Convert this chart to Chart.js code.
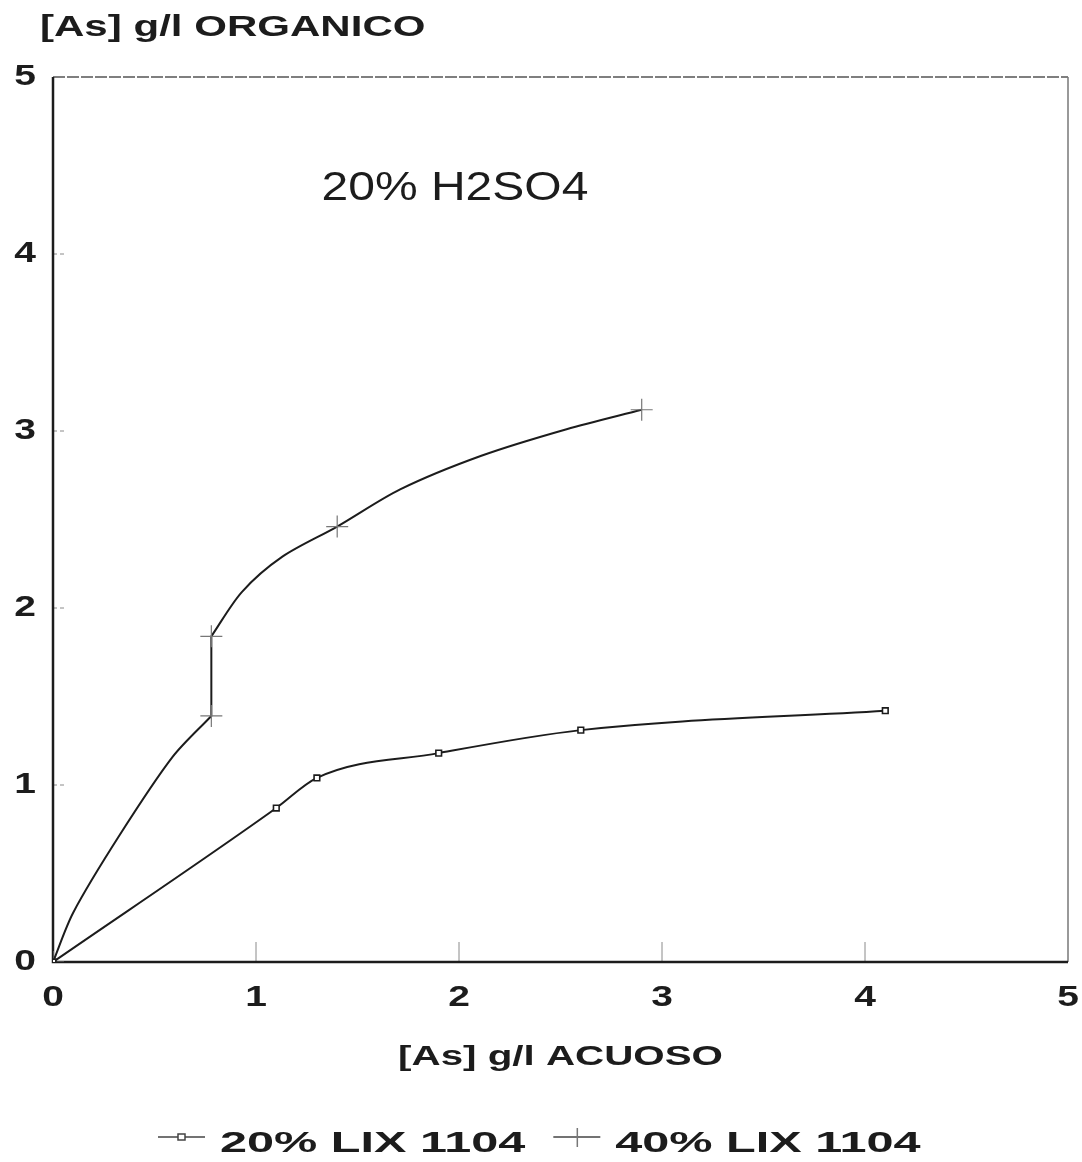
<!DOCTYPE html>
<html>
<head>
<meta charset="utf-8">
<script src="https://cdn.jsdelivr.net/npm/chart.js@4.4.1/dist/chart.umd.min.js"></script>
<style>
  html, body { margin: 0; padding: 0; background: #fff; }
  #wrap { width: 1082px; height: 1162px; }
</style>
</head>
<body>
<div id="wrap"><canvas id="chart"></canvas></div>
<script>
// tick values
const xTicks = [0, 1, 2, 3, 4, 5];
const yTicks = [0, 1, 2, 3, 4, 5];

// 20% LIX 1104 (square markers)
const lix20X = [0, 1.1, 1.3, 1.9, 2.6, 4.1];
const lix20Y = [0, 0.87, 1.04, 1.18, 1.31, 1.42];

// 40% LIX 1104, curve; markers only where the plot shows them.
// the two corners of the vertical step are listed twice so the spline keeps the step straight
const lix40X = [0, 0.10, 0.33, 0.59, 0.78, 0.78, 0.78, 0.78, 0.93, 1.13, 1.40, 1.71, 2.11, 2.53, 2.90];
const lix40Y = [0, 0.28, 0.72, 1.16, 1.39, 1.39, 1.84, 1.84, 2.09, 2.29, 2.46, 2.67, 2.86, 3.01, 3.12];
const lix40Mark = [1, 0, 0, 0, 1, 0, 1, 0, 0, 0, 1, 0, 0, 0, 1];

const seriesNames = ['20% LIX 1104', '40% LIX 1104'];
const xTitle = '[As] g/l ACUOSO';
const yTitle = '[As] g/l ORGANICO';
const note = '20% H2SO4';

const FONT = '"Liberation Sans", Arial, sans-serif';
const INK = '#1c1c1c';

const toPts = (xs, ys) => xs.map((x, i) => ({ x: x, y: ys[i] }));

// the old plotter font is much wider than Helvetica, so stretch it
function wideText(ctx, text, x, y, size, weight, stretch, align) {
    ctx.save();
    ctx.font = weight + ' ' + size + 'px ' + FONT;
    ctx.textBaseline = 'middle';
    ctx.textAlign = 'left';
    const w = ctx.measureText(text).width * stretch;
    let x0 = x;
    if (align === 'center') x0 = x - w / 2;
    if (align === 'right') x0 = x - w;
    ctx.translate(x0, y);
    ctx.scale(stretch, 1);
    ctx.fillStyle = INK;
    ctx.fillText(text, 0, 0);
    ctx.restore();
    return w;
}

const framePlugin = {
    id: 'frame',
    beforeDatasetsDraw(chart) {
        const { ctx, chartArea: a, scales } = chart;
        ctx.save();
        // inner tick marks
        ctx.strokeStyle = '#8a8a8a';
        ctx.lineWidth = 1;
        xTicks.slice(1, -1).forEach(v => {
            const px = scales.x.getPixelForValue(v);
            ctx.beginPath();
            ctx.moveTo(px, a.bottom);
            ctx.lineTo(px, a.bottom - 20);
            ctx.stroke();
        });
        ctx.setLineDash([4, 3]);
        yTicks.slice(1, -1).forEach(v => {
            const py = scales.y.getPixelForValue(v);
            ctx.beginPath();
            ctx.moveTo(a.left, py);
            ctx.lineTo(a.left + 14, py);
            ctx.stroke();
        });
        // top & right border, light
        ctx.strokeStyle = '#555';
        ctx.lineWidth = 1.5;
        ctx.setLineDash([12, 2]);
        ctx.beginPath();
        ctx.moveTo(a.left, a.top);
        ctx.lineTo(a.right, a.top);
        ctx.stroke();
        ctx.setLineDash([]);
        ctx.strokeStyle = '#777';
        ctx.beginPath();
        ctx.moveTo(a.right, a.top);
        ctx.lineTo(a.right, a.bottom);
        ctx.stroke();
        // left & bottom axes, heavy
        ctx.strokeStyle = INK;
        ctx.lineWidth = 2.5;
        ctx.beginPath();
        ctx.moveTo(a.left, a.top);
        ctx.lineTo(a.left, a.bottom);
        ctx.lineTo(a.right, a.bottom);
        ctx.stroke();
        ctx.restore();
    },
    afterDraw(chart) {
        const { ctx, chartArea: a, scales } = chart;

        // tick labels
        scales.x.ticks.forEach(t => {
            wideText(ctx, String(t.value), scales.x.getPixelForValue(t.value), 998, 30, 'bold', 1.3, 'center');
        });
        scales.y.ticks.forEach(t => {
            wideText(ctx, String(t.value), 36, scales.y.getPixelForValue(t.value), 30, 'bold', 1.3, 'right');
        });

        // axis titles
        wideText(ctx, yTitle, 40, 28, 29, 'bold', 1.45, 'left');
        wideText(ctx, xTitle, (a.left + a.right) / 2, 1057, 28, 'bold', 1.44, 'center');
        // note inside plot
        wideText(ctx, note, scales.x.getPixelForValue(1.98), scales.y.getPixelForValue(4.37), 40, 'normal', 1.2, 'center');

        // legend
        const ly = 1140;
        let x = 158;
        chart.data.datasets.forEach((d, i) => {
            ctx.save();
            ctx.strokeStyle = '#444';
            ctx.lineWidth = 1.5;
            ctx.beginPath();
            ctx.moveTo(x, ly - 3);
            ctx.lineTo(x + 47, ly - 3);
            ctx.stroke();
            if (i === 0) {
                ctx.fillStyle = '#fff';
                ctx.fillRect(x + 20, ly - 6, 7, 6);
                ctx.strokeRect(x + 20, ly - 6, 7, 6);
            } else {
                ctx.strokeStyle = '#777';
                ctx.beginPath();
                ctx.moveTo(x + 24, ly - 12);
                ctx.lineTo(x + 24, ly + 7);
                ctx.stroke();
            }
            ctx.restore();
            const w = wideText(ctx, d.label, x + 62, ly + 4, 30, 'bold', 1.62, 'left');
            x += 62 + w + 28;
        });
    }
};

const ctx = document.getElementById('chart').getContext('2d');
const chart = new Chart(ctx, {
    type: 'scatter',
    data: {
        datasets: [{
            label: seriesNames[0],
            data: toPts(lix20X, lix20Y),
            showLine: true,
            borderColor: INK,
            borderWidth: 2,
            cubicInterpolationMode: 'monotone',
            pointStyle: 'rect',
            pointRadius: 4,
            pointBorderWidth: 1.6,
            pointBorderColor: INK,
            pointBackgroundColor: '#fff'
        }, {
            label: seriesNames[1],
            data: toPts(lix40X, lix40Y),
            showLine: true,
            borderColor: INK,
            borderWidth: 2,
            tension: 0.3,
            pointStyle: 'cross',
            pointRadius: lix40Mark.map(m => m ? 11 : 0),
            pointBorderWidth: 1.2,
            pointBorderColor: '#777',
            pointBackgroundColor: '#777'
        }]
    },
    options: {
        responsive: true,
        maintainAspectRatio: false,
        animation: false,
        layout: { padding: { left: 0, right: 14, top: 77, bottom: 0 } },
        plugins: {
            legend: { display: false },
            tooltip: { enabled: false }
        },
        scales: {
            x: {
                type: 'linear',
                min: 0,
                max: 5,
                afterBuildTicks: s => { s.ticks = xTicks.map(v => ({ value: v })); },
                afterFit: s => { s.height = 200; },
                grid: { display: false, drawTicks: false },
                border: { display: false },
                ticks: { display: false }
            },
            y: {
                type: 'linear',
                min: 0,
                max: 5,
                afterBuildTicks: s => { s.ticks = yTicks.map(v => ({ value: v })); },
                afterFit: s => { s.width = 53; },
                grid: { display: false, drawTicks: false },
                border: { display: false },
                ticks: { display: false }
            }
        }
    },
    plugins: [framePlugin]
});
</script>
</body>
</html>
